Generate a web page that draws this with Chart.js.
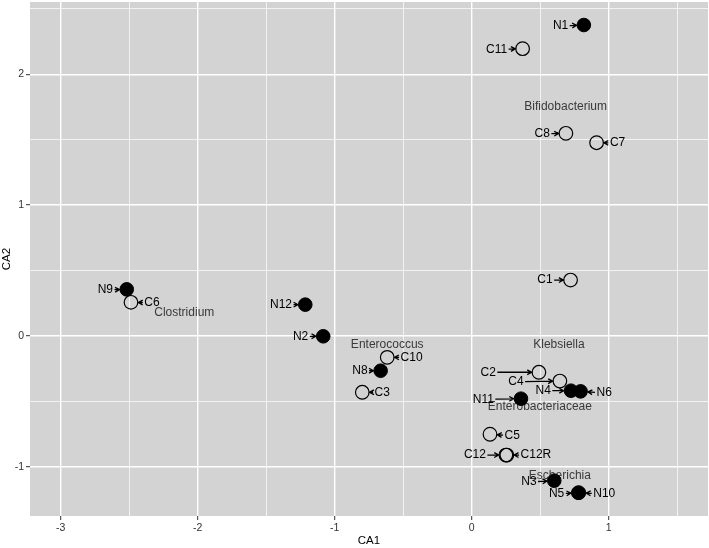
<!DOCTYPE html>
<html>
<head>
<meta charset="utf-8">
<script src="https://cdn.jsdelivr.net/npm/chart.js@4.4.0/dist/chart.umd.min.js"></script>
<style>
  html, body { margin: 0; padding: 0; background: #fff; }
  #wrap { width: 709px; height: 548px; }
</style>
</head>
<body>
<div id="wrap"><canvas id="ca" width="709" height="548"></canvas></div>
<script>
// CA biplot — open circles = C samples, filled = N samples, grey text = genera.
const cNames = ["C1", "C2", "C3", "C4", "C5", "C6", "C7", "C8", "C10", "C11", "C12", "C12R"];
const cX = [0.722, 0.491, -0.798, 0.644, 0.134, -2.486, 0.912, 0.688, -0.616, 0.372, 0.250, 0.257];
const cY = [0.427, -0.278, -0.431, -0.345, -0.752, 0.257, 1.477, 1.549, -0.164, 2.196, -0.911, -0.911];
const cLabelX = [0.535, 0.121, -0.652, 0.323, 0.296, -2.333, 1.065, 0.515, -0.438, 0.182, 0.024, 0.469];
const cLabelY = [0.427, -0.278, -0.431, -0.350, -0.763, 0.254, 1.475, 1.544, -0.164, 2.191, -0.911, -0.911];

const nNames = ["N1", "N2", "N3", "N4", "N5", "N6", "N8", "N9", "N10", "N11", "N12"];
const nX = [0.819, -1.083, 0.603, 0.725, 0.778, 0.795, -0.664, -2.517, 0.783, 0.360, -1.214];
const nY = [2.377, -0.003, -1.107, -0.419, -1.199, -0.424, -0.266, 0.356, -1.199, -0.480, 0.239];
const nLabelX = [0.649, -1.248, 0.418, 0.522, 0.620, 0.967, -0.815, -2.673, 0.968, 0.085, -1.391];
const nLabelY = [2.369, -0.003, -1.117, -0.419, -1.209, -0.437, -0.266, 0.351, -1.209, -0.485, 0.239];

const genusNames = ["Bifidobacterium", "Clostridium", "Enterococcus", "Klebsiella", "Enterobacteriaceae", "Escherichia"];
const genusX = [0.686, -2.097, -0.616, 0.637, 0.498, 0.644];
const genusY = [1.752, 0.177, -0.070, -0.064, -0.541, -1.071];

const xTicks = [-3, -2.5, -2, -1.5, -1, -0.5, 0, 0.5, 1, 1.5];
const yTicks = [-1, -0.5, 0, 0.5, 1, 1.5, 2, 2.5];

const FONT_FAMILY = '"Liberation Sans", Arial, sans-serif';
const LABEL_FONT = "12px " + FONT_FAMILY;
const PT_R = 6.8;

const isMajor = (v) => Math.abs(v - Math.round(v)) < 1e-6;

const panelBg = {
  id: "panelBg",
  beforeDraw(chart) {
    const { ctx, chartArea: a } = chart;
    ctx.save();
    ctx.fillStyle = "#fff";
    ctx.fillRect(0, 0, chart.width, chart.height);
    ctx.fillStyle = "#d3d3d3";
    ctx.fillRect(a.left, a.top, a.right - a.left, a.bottom - a.top);
    ctx.restore();
  },
  beforeDatasetsDraw(chart) {
    // genus names sit under the points
    const { ctx, scales: { x, y } } = chart;
    ctx.save();
    ctx.font = LABEL_FONT;
    ctx.fillStyle = "#3a3a3a";
    ctx.textAlign = "center";
    ctx.textBaseline = "middle";
    genusNames.forEach((g, i) => ctx.fillText(g, x.getPixelForValue(genusX[i]), y.getPixelForValue(genusY[i])));
    ctx.restore();
  },
};

function drawLabels(chart, names, px, py, lx, ly) {
  const { ctx, scales: { x, y } } = chart;
  names.forEach((name, i) => {
    const tx = x.getPixelForValue(lx[i]), ty = y.getPixelForValue(ly[i]);
    const ptx = x.getPixelForValue(px[i]), pty = y.getPixelForValue(py[i]);
    ctx.fillText(name, tx, ty);
    const dx = ptx - tx, dy = pty - ty;
    const len = Math.hypot(dx, dy);
    if (len < 1) return;
    const ux = dx / len, uy = dy / len;
    const hw = ctx.measureText(name).width / 2 + 1.5, hh = 6;
    const t = Math.min(Math.abs(ux) > 1e-6 ? hw / Math.abs(ux) : 1e9, Math.abs(uy) > 1e-6 ? hh / Math.abs(uy) : 1e9);
    const sx = tx + ux * t, sy = ty + uy * t;
    const ex = ptx - ux * (PT_R + 0.5), ey = pty - uy * (PT_R + 0.5);
    if ((ex - sx) * ux + (ey - sy) * uy <= 0) return;
    ctx.beginPath();
    ctx.moveTo(sx, sy);
    ctx.lineTo(ex, ey);
    const ang = Math.atan2(uy, ux), head = 5;
    ctx.moveTo(ex - head * Math.cos(ang - 0.5), ey - head * Math.sin(ang - 0.5));
    ctx.lineTo(ex, ey);
    ctx.lineTo(ex - head * Math.cos(ang + 0.5), ey - head * Math.sin(ang + 0.5));
    ctx.stroke();
  });
}

const sampleLabels = {
  id: "sampleLabels",
  afterDatasetsDraw(chart) {
    const { ctx } = chart;
    ctx.save();
    ctx.font = LABEL_FONT;
    ctx.fillStyle = "#000";
    ctx.strokeStyle = "#000";
    ctx.lineWidth = 1.3;
    ctx.textAlign = "center";
    ctx.textBaseline = "middle";
    drawLabels(chart, cNames, cX, cY, cLabelX, cLabelY);
    drawLabels(chart, nNames, nX, nY, nLabelX, nLabelY);
    ctx.restore();
  },
};

const axisCommon = (ticks) => ({
  type: "linear",
  afterBuildTicks: (s) => { s.ticks = ticks.map((v) => ({ value: v })); },
  grid: {
    color: "#fff",
    lineWidth: (c) => (isMajor(c.tick.value) ? 1.4 : 0.7),
    drawTicks: true,
    tickLength: 4,
    tickWidth: 1,
    tickColor: (c) => (isMajor(c.tick.value) ? "#333" : "rgba(0,0,0,0)"),
  },
  border: { display: false },
  ticks: {
    autoSkip: false,
    maxRotation: 0,
    color: "#333",
    font: { family: FONT_FAMILY, size: 10.5 },
    callback: (v) => (isMajor(v) ? String(Math.round(v)) : ""),
  },
  title: { display: true, color: "#000", font: { family: FONT_FAMILY, size: 11.5 }, padding: 0 },
});

const noPad = (s) => { s.paddingLeft = 0; s.paddingRight = 0; s.paddingTop = 0; s.paddingBottom = 0; };

const xAxis = axisCommon(xTicks);
xAxis.min = -3.223; xAxis.max = 1.725;
xAxis.ticks.padding = 2;
xAxis.title.text = "CA1";
xAxis.afterFit = (s) => { s.height = 32; noPad(s); };

const yAxis = axisCommon(yTicks);
yAxis.min = -1.377; yAxis.max = 2.553;
yAxis.ticks.padding = 2;
yAxis.title.text = "CA2";
yAxis.afterFit = (s) => { s.width = 30; noPad(s); };

new Chart(document.getElementById("ca"), {
  type: "scatter",
  data: {
    datasets: [
      {
        label: "C",
        data: cX.map((v, i) => ({ x: v, y: cY[i] })),
        pointRadius: PT_R,
        pointHoverRadius: PT_R,
        backgroundColor: "rgba(0,0,0,0)",
        borderColor: "#000",
        borderWidth: 1.2,
      },
      {
        label: "N",
        data: nX.map((v, i) => ({ x: v, y: nY[i] })),
        pointRadius: PT_R,
        pointHoverRadius: PT_R,
        backgroundColor: "#000",
        borderColor: "#000",
        borderWidth: 1,
      },
    ],
  },
  options: {
    responsive: false,
    animation: false,
    layout: { autoPadding: false, padding: { top: 2, right: 1, left: 0, bottom: 0 } },
    plugins: { legend: { display: false }, tooltip: { enabled: false } },
    scales: { x: xAxis, y: yAxis },
  },
  plugins: [panelBg, sampleLabels],
});
</script>
</body>
</html>
